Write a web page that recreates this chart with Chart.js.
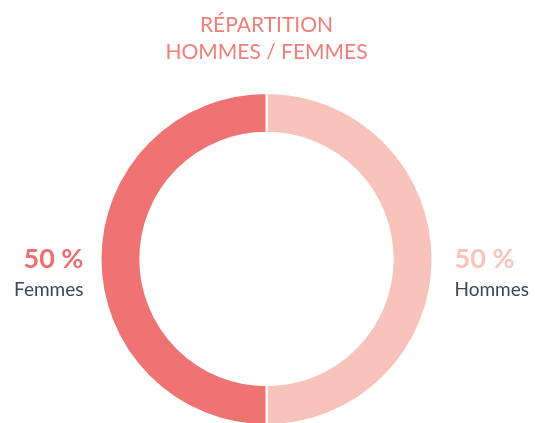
<!DOCTYPE html>
<html>
<head>
<meta charset="utf-8">
<script src="https://cdn.jsdelivr.net/npm/chart.js@4/dist/chart.umd.min.js"></script>
<style>
  html, body { margin: 0; padding: 0; background: #fff; overflow: hidden; }
  #wrap { width: 535px; height: 430px; }
</style>
</head>
<body>
<div id="wrap"><canvas id="myChart" width="535" height="430"></canvas></div>
<script>
// Data
const titleLines = ["RÉPARTITION", "HOMMES / FEMMES"];
const genders = ["Hommes", "Femmes"];
const shares = [50, 50];
const sliceColors = ["#F7C3BB", "#EF7372"];
const percentColors = ["#F8C4BC", "#EE6F6F"];

// labels next to the ring: "50 %" and the name under it
const sideLabels = {
    id: "sideLabels",
    afterDatasetsDraw(chart) {
        const ctx = chart.ctx;
        const meta = chart.getDatasetMeta(0);
        meta.data.forEach((arc, i) => {
            const mid = (arc.startAngle + arc.endAngle) / 2;
            const right = Math.cos(mid) > 0;
            const x = right ? arc.x + arc.outerRadius + 22 : arc.x - arc.outerRadius - 17;
            ctx.save();
            ctx.textAlign = right ? "left" : "right";
            ctx.textBaseline = "alphabetic";
            ctx.fillStyle = percentColors[i];
            ctx.font = "bold 27px Lato";
            ctx.fillText(shares[i] + " %", x, arc.y + 9);
            ctx.fillStyle = "#3B4656";
            ctx.font = "19px Lato";
            ctx.fillText(genders[i], x, arc.y + 37);
            ctx.restore();
        });
    }
};

const myChart = new Chart(document.getElementById("myChart"), {
    type: "doughnut",
    data: {
        labels: genders,
        datasets: [{
            data: shares,
            backgroundColor: sliceColors,
            borderColor: "#ffffff",
            borderWidth: 2
        }]
    },
    options: {
        responsive: false,
        animation: false,
        cutout: "76%",
        layout: {
            padding: { top: 0, bottom: 4, left: 89, right: 91 }
        },
        plugins: {
            legend: { display: false },
            tooltip: { enabled: false },
            title: {
                display: true,
                text: titleLines,
                color: "#F07F7A",
                font: { family: "Lato", size: 21, weight: "normal", lineHeight: "27px" },
                padding: { top: 12, bottom: 26 }
            }
        }
    },
    plugins: [sideLabels]
});
</script>
</body>
</html>
